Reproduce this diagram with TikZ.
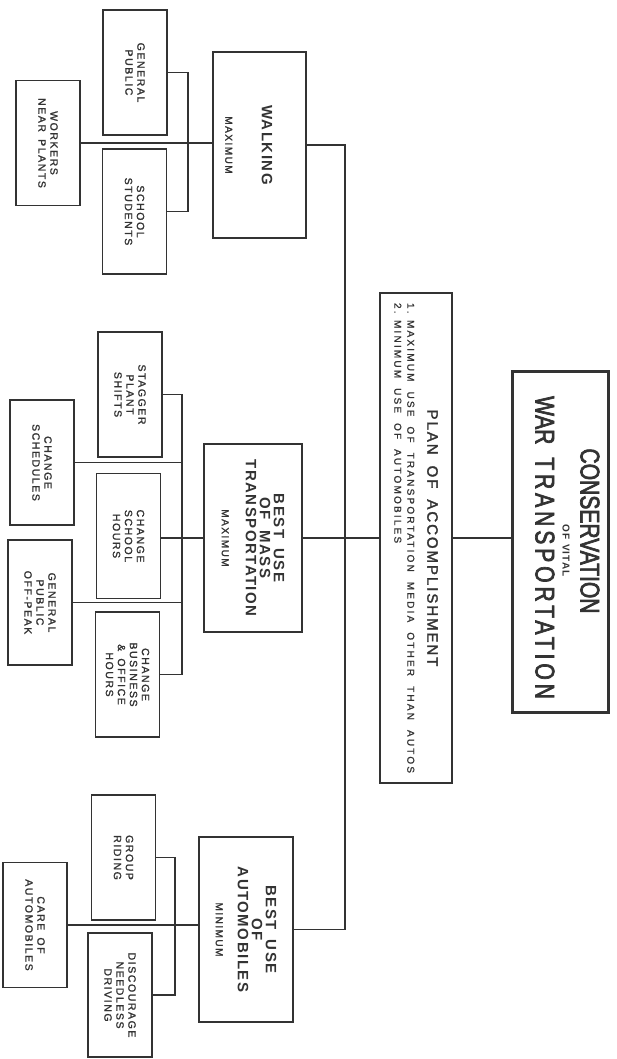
\documentclass[tikz,border=0pt]{standalone}
\usepackage{fontspec}
\setmainfont{Liberation Sans}
\newfontfamily\plainf[LetterSpace=12]{Liberation Sans}
\newfontfamily\labf[LetterSpace=15,WordSpace=1.6,FakeBold=1.5]{Liberation Sans}
\newfontfamily\headf[LetterSpace=10,WordSpace=1.8]{Liberation Sans}
\newfontfamily\planf[LetterSpace=13,WordSpace=1.8,FakeBold=2]{Liberation Sans}
\newfontfamily\listf[LetterSpace=22,WordSpace=2,FakeBold=1]{Liberation Sans}
\newfontfamily\titf[FakeStretch=0.78,FakeBold=2.5]{Liberation Sans}
\definecolor{ink}{gray}{0.2}
\newcommand\mlab[1]{{\labf\mdseries\fontsize{10}{12}\selectfont #1}}
\begin{document}
\begin{tikzpicture}[x=1pt,y=-1pt,
  box/.style={draw=ink,line width=1.7pt,rotate=-90,inner sep=0pt,outer sep=0pt,align=center,text=ink},
  small/.style={box,minimum width=125pt,minimum height=64pt,font=\labf\fontsize{10.5}{12}\selectfont},
  mainbox/.style={box,font=\headf\bfseries\fontsize{15}{14}\selectfont},
  conn/.style={draw=ink,line width=1.7pt}]
\useasboundingbox[fill=white] (0,0) rectangle (617,1059);

% top level
\node[box,line width=2.6pt,minimum width=341pt,minimum height=96pt,
      font=\titf\fontsize{27}{27}\selectfont] (title) at (560.5,542)
  {CONSERVATION\hspace*{22pt}\\[-9pt]%
   \hspace*{18pt}{\plainf\bfseries\fontsize{10}{10}\selectfont OF VITAL}\\%
   \hspace*{11pt}WAR\hspace{7pt} {\addfontfeature{LetterSpace=14.5}TRANSPORTATION}\rule[-14pt]{0pt}{14pt}};
\node[box,minimum width=490pt,minimum height=72pt,align=left,
      font=\listf\fontsize{10}{13}\selectfont] (plan) at (416,538)
  {\makebox[470pt]{\planf\fontsize{15}{15}\selectfont PLAN OF ACCOMPLISHMENT}\\[7pt]%
   \makebox[470pt][s]{\makebox[17pt][l]{1.}MAXIMUM USE OF TRANSPORTATION MEDIA OTHER THAN AUTOS}\\%
   \makebox[17pt][l]{2.}MINIMUM USE OF AUTOMOBILES};

% second level
\node[mainbox,minimum width=186pt,minimum height=93pt] (walk) at (259.5,145)
  {\rule{0pt}{32pt}WALKING\\[22.5pt]\mlab{MAXIMUM}};
\node[mainbox,minimum width=188pt,minimum height=98pt] (mass) at (253,538)
  {BEST USE\\OF MASS\\TRANSPORTATION\\[10pt]\mlab{MAXIMUM}};
\node[mainbox,minimum width=185pt,minimum height=94pt] (autos) at (246,929.5)
  {BEST USE\\OF\\AUTOMOBILES\\[8pt]\mlab{MINIMUM}};

% walking group
\node[small] (gp) at (135,72.5) {GENERAL\\PUBLIC};
\node[small] (ss) at (134.5,211.5) {SCHOOL\\STUDENTS};
\node[small] (wk) at (48,143) {WORKERS\\NEAR PLANTS};

% mass transportation group
\node[small] (stg) at (130,394.5) {STAGGER\\PLANT\\SHIFTS};
\node[small] (sch) at (42,462.5) {CHANGE\\SCHEDULES};
\node[small] (csh) at (128.5,536) {CHANGE\\SCHOOL\\HOURS};
\node[small] (off) at (40,602.5) {GENERAL\\PUBLIC\\OFF-PEAK};
\node[small] (bus) at (127.5,674.5) {CHANGE\\BUSINESS\\\& OFFICE\\HOURS};

% automobiles group
\node[small] (grp) at (123.5,857.5) {GROUP\\RIDING};
\node[small,minimum width=124pt] (dis) at (120,995) {DISCOURAGE\\NEEDLESS\\DRIVING};
\node[small] (care) at (35,925) {CARE OF\\AUTOMOBILES};

% connectors
\coordinate (trk) at (345,540);
\draw[conn] (walk.north) -- (walk.north -| trk) -- (autos.north -| trk) -- (autos.north);
\draw[conn] (mass.north) -- (mass.north -| plan.south);
\draw[conn] (plan.north) -- (plan.north -| title.south);

\coordinate (wbx) at (188,145);
\draw[conn] (gp.north) -- (gp.north -| wbx) -- (ss.north -| wbx) -- (ss.north);
\draw[conn] (wk.north) -- (wk.north -| walk.south);

\coordinate (mbx) at (182,538);
\draw[conn] (stg.north) -- (stg.north -| mbx) -- (bus.north -| mbx) -- (bus.north);
\draw[conn] (sch.north) -- (sch.north -| mbx);
\draw[conn] (off.north) -- (off.north -| mbx);
\draw[conn] (mass.south) -- (mass.south -| csh.north);

\coordinate (abx) at (175,930);
\draw[conn] (grp.north) -- (grp.north -| abx) -- (dis.north -| abx) -- (dis.north);
\draw[conn] (care.north) -- (care.north -| autos.south);
\end{tikzpicture}
\end{document}
